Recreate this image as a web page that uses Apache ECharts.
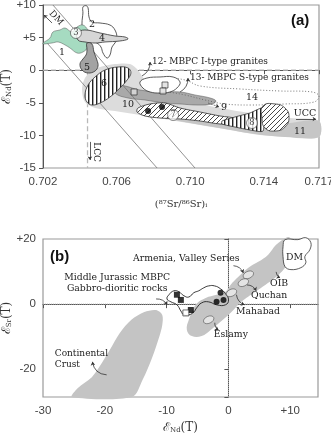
<!DOCTYPE html>
<html><head><meta charset="utf-8">
<script src="https://cdn.jsdelivr.net/npm/echarts@6/dist/echarts.min.js"></script>
<style>html,body{margin:0;padding:0;background:#fff}#c{width:331px;height:437px}</style>
</head><body><div id="c"></div>
<script>
// ---------- axis ticks ----------
const xTicksA = [0.702, 0.706, 0.710, 0.714, 0.717];
const yTicksA = [-15, -10, -5, 0, 5, 10];
const xTicksB = [-30, -20, -10, 0, 10];
const yTicksB = [-28.5, -20, 0, 20];
const yLabelsB = [-20, 0, 20];

// ---------- panel (a) fields: [87Sr/86Sr, eNd] ----------
const field1 = [[.7020,4.17],[.70238,4.94],[.70254,5.86],[.70292,6.17],[.70320,6.47],[.70358,5.86],[.70385,6.63],[.70417,6.93],[.70445,6.17],[.70466,5.40],[.70455,4.63],[.70445,3.56],[.70417,2.79],[.70385,2.64],[.70347,3.40],[.70320,3.87],[.70282,4.33],[.70249,4.17],[.7020,4.02]];
const field2 = [[.70417,9.69],[.70434,9.9],[.70445,9.54],[.70450,8.16],[.70466,7.39],[.70510,7.24],[.70564,6.93],[.70591,6.17],[.70602,4.94],[.70591,4.17],[.70575,3.56],[.70564,2.33],[.70548,1.87],[.70526,2.64],[.70515,3.56],[.70493,4.17],[.70466,4.33],[.70439,4.94],[.70417,5.71],[.70412,7.24],[.70417,8.77]];
const field4 = [[.70385,5.71],[.70428,6.17],[.70510,5.71],[.70591,5.25],[.70646,5.09],[.70662,4.79],[.70618,4.48],[.70537,4.33],[.70483,4.17],[.70428,4.33],[.70390,4.63]];
const field5 = [[.70439,4.17],[.70466,4.02],[.70477,2.79],[.70493,1.56],[.70499,0.64],[.70483,-0.12],[.70445,-0.43],[.70412,0.03],[.70401,0.95],[.70417,1.72],[.70434,2.33],[.70439,3.10]];
const field6 = [[.70428,-3.80],[.70445,-2.27],[.70483,-1.04],[.70537,0.03],[.70608,0.49],[.70662,0.34],[.70678,-0.43],[.70657,-1.50],[.70618,-2.73],[.70564,-4.11],[.70510,-5.03],[.70466,-5.34],[.70439,-4.88]];
const field10 = [[.70412,-3.04],[.70423,-1.50],[.70455,-0.28],[.70510,0.49],[.70591,0.95],[.70673,0.95],[.70716,0.03],[.70754,-1.50],[.70836,-3.04],[.70945,-4.26],[.71108,-5.49],[.71325,-6.56],[.71542,-7.33],[.71700,-7.79],[.71700,-10.25],[.71542,-10.25],[.71379,-9.94],[.71216,-9.17],[.71053,-8.40],[.70890,-7.64],[.70727,-6.87],[.70591,-6.26],[.70483,-5.80],[.70428,-4.88]];
const field11 = [[.70727,-6.26],[.70945,-7.03],[.71162,-7.79],[.71390,-8.56],[.71542,-8.1],[.71700,-7.79],[.71700,-10.25],[.71515,-10.25],[.71352,-9.79],[.71189,-9.02],[.70999,-8.10],[.70836,-7.18]];
const field13 = [[.70580,-2.12],[.70646,-2.42],[.70727,-3.04],[.70836,-3.34],[.70945,-3.34],[.71026,-3.80],[.71108,-4.26],[.71140,-4.72],[.71118,-5.18],[.71042,-5.34],[.70945,-5.18],[.70863,-5.03],[.70754,-4.57],[.70662,-4.26],[.70591,-3.50]];
const field12 = [[.70727,-1.81],[.70765,-1.20],[.70836,-1.04],[.70907,-1.04],[.70945,-1.81],[.70928,-2.73],[.70890,-3.34],[.70836,-3.50],[.70782,-3.34],[.70743,-2.73]];
const field14 = [[.70771,-1.50],[.70863,-1.20],[.70972,-1.50],[.71053,-2.42],[.71271,-2.88],[.71488,-3.19],[.71662,-3.34],[.71700,-3.96],[.71673,-4.88],[.71515,-5.18],[.71325,-5.34],[.71189,-5.18],[.71080,-4.57],[.70972,-3.80],[.70836,-3.04],[.70771,-2.27]];
const field7 = [[.70716,-5.80],[.70782,-5.18],[.70863,-5.03],[.70945,-5.80],[.71053,-6.41],[.71162,-7.02],[.71260,-7.48],[.71260,-8.25],[.71162,-8.25],[.71053,-7.79],[.70945,-7.48],[.70836,-7.33],[.70754,-7.02],[.70711,-6.41]];
const field8a = [[.71173,-7.79],[.71243,-7.18],[.71325,-6.56],[.71396,-5.80],[.71396,-9.33],[.71325,-9.17],[.71243,-8.71],[.71173,-8.25]];
const field8b = [[.71396,-5.49],[.71461,-5.18],[.71515,-5.80],[.71537,-7.18],[.71515,-8.71],[.71461,-9.33],[.71407,-8.87],[.71390,-7.33]];
const squaresA = [[.70695,-3.34],[.70863,-2.27],[.70852,-3.19]];
const dotsA = [[.70771,-6.26],[.70847,-5.64]];
const mantleLineA = [[.70254,10],[.71026,-15]];
const mantleLineB = [[.70222,4.17],[.70820,-15]];
const lccLine = [[.70442,0],[.70442,-15]];
const zeroLineA = [[.702,0],[.717,0]];
const circledA = [[.70379,5.71,'3'],[.70907,-6.87,'7'],[.71336,-8.10,'8']];
const numLabelsA = [[.70303,2.64,'1'],[.70466,6.93,'2'],[.70521,4.79,'4'],[.70439,0.34,'5'],[.70532,-2.12,'6'],[.70662,-5.34,'10'],[.71597,-9.48,'11'],[.71336,-4.26,'14'],[.71184,-5.80,'9'],[.71624,-6.72,'UCC']];
const noteLabelsA = [[.70792,1.26,'12- MBPC I-type granites'],[.70999,-1.2,'13- MBPC S-type granites']];
const rotLabelsA = [[.70271,8.0,'DM',-0.84],[.70490,-12.55,'LCC',-Math.PI/2]];
const arrowsA = [[[.70249,7.24],[.70205,8.47],0],[[.70738,-0.89],[.70782,1.26],-0.3],[[.70945,-3.34],[.70988,-1.2],-0.3],[[.71575,-7.48],[.71684,-7.48],0],[[.70455,-11.0],[.70455,-13.77],0]];
const dottedArrowA = [[[.71097,-5.03],[.71157,-5.64],0]];

// ---------- panel (b) fields: [eNd, eSr] ----------
const crust = [[-25.3,-28.5],[-24.4,-25.8],[-22.1,-22.4],[-20.9,-19.3],[-19.2,-14.1],[-17.6,-8.9],[-15.7,-4.8],[-13.6,-2.4],[-11.7,-1.8],[-10.7,-3.3],[-10.7,-6.4],[-11.2,-10.1],[-12.3,-16.2],[-13.9,-23.3],[-15.6,-28.5]];
const mantleArray = [[9.33,20.4],[7.72,18.2],[6.44,15.2],[4.83,13.0],[3.23,11.2],[1.62,8.4],[0.34,5.9],[-0.47,3.8],[-1.91,2.9],[-3.68,1.9],[-5.28,-0.2],[-6.40,-4.8],[-6.72,-7.9],[-5.92,-9.8],[-4.32,-9.8],[-2.87,-7.9],[-1.27,-5.4],[0.50,-2.4],[2.10,0.7],[4.35,3.8],[5.96,5.9],[7.56,8.1],[9.17,11.2],[10.13,14.2],[10.61,18.2],[9.97,20.4]];
const jurassic = [[-9.61,2.9],[-8.81,4.1],[-8.01,3.8],[-7.21,2.6],[-6.40,2.2],[-5.60,3.5],[-4.80,4.1],[-4.00,5.0],[-3.19,5.6],[-2.23,5.6],[-1.27,4.7],[-0.47,3.2],[0.02,1.3],[-0.47,-0.2],[-1.91,-0.2],[-3.19,0.7],[-4.32,0.4],[-5.12,-1.1],[-5.60,-2.4],[-6.40,-3.3],[-7.21,-3.3],[-7.69,-2.1],[-8.33,-0.2],[-9.29,0.7],[-9.93,1.6]];
const dmB = [[9.17,19.8],[11.25,19.8],[12.53,20.4],[13.34,18.9],[13.18,16.7],[12.37,14.6],[12.53,12.7],[11.73,11.2],[10.13,10.6],[9.17,11.5],[8.84,14.6],[8.84,17.6]];
const ellipsesB = [[3.23,9.0,'Armenia'],[2.42,6.6,'Quchan'],[0.50,3.5,'Mahabad'],[-3.19,-4.8,'Eslamy']];
const squaresB = [[-8.33,2.9],[-7.69,1.3],[-6.08,-1.8]];
const openSquaresB = [[-6.88,-2.7]];
const dotsB = [[-1.27,3.5],[-1.91,0.7],[-0.79,1.3]];
const zeroVB = [[0,-28.5],[0,20]];
const zeroHB = [[-30,0],[14.5,0]];
const labelsB = [[-6.8,14.1,'Armenia, Valley Series'],[-18.0,8.2,'Middle Jurassic MBPC'],[-18.0,4.9,'Gabbro-dioritic rocks'],[10.7,14.3,'DM'],[8.2,6.2,'OIB'],[6.6,2.6,'Quchan'],[4.8,-2.4,'Mahabad'],[0.4,-9.2,'Eslamy']];
const leftLabelsB = [[-28.1,-15.2,'Continental'],[-28.1,-18.6,'Crust']];
const arrowsB = [[[0.82,11.8],[2.42,9.6],0.3],[[7.72,9.9],[8.36,8.1],-0.3],[[3.0,5.9],[4.5,4.1],0.3],[[1.3,2.9],[2.6,-0.2],-0.3],[[-2.2,-5.7],[-1.6,-7.9],-0.3],[[-11.7,1.6],[-9.9,-0.2],0.3],[[-19.7,-21.7],[-22.0,-17.7],0.4]];

// ---------- styling helpers ----------
const SERIF = "'DejaVu Serif', serif";
const SANS = "'Liberation Sans', Arial, sans-serif";
function pattern(kind){
  const c = document.createElement('canvas');
  const g = c.getContext('2d');
  if (kind === 'v') {
    c.width = 4; c.height = 4;
    g.fillStyle = '#fff'; g.fillRect(0,0,4,4);
    g.fillStyle = '#222'; g.fillRect(0,0,1.4,4);
  } else {
    c.width = 5; c.height = 5;
    g.fillStyle = '#fff'; g.fillRect(0,0,5,5);
    g.strokeStyle = '#333'; g.lineWidth = 0.9;
    g.beginPath(); g.moveTo(-1,6); g.lineTo(6,-1); g.stroke();
  }
  return {image: c, repeat: 'repeat'};
}
const VSTRIPE = pattern('v');
const DSTRIPE = pattern('d');

function poly(gi, pts, style, smooth, z){
  return {type:'custom', xAxisIndex:gi, yAxisIndex:gi, data:pts, z:z, silent:true, clip:false,
    renderItem:function(params, api){
      if (params.dataIndex !== 0) return null;
      return {type:'polygon', shape:{points:pts.map(q=>api.coord(q)), smooth:smooth}, style:Object.assign({}, style)};
    }};
}
function seg(gi, pts, color, width, type, z){
  return {type:'line', xAxisIndex:gi, yAxisIndex:gi, data:pts, symbol:'none', silent:true, z:z,
    lineStyle:{color:color, width:width, type:type}};
}
function texts(gi, items, font, align, z, rot){
  return {type:'custom', xAxisIndex:gi, yAxisIndex:gi, data:items.map(d=>[d[0],d[1]]), z:z||20, silent:true, clip:false,
    renderItem:function(params, api){
      const d = items[params.dataIndex];
      const p = api.coord([d[0],d[1]]);
      return {type:'text', x:p[0], y:p[1], rotation: rot ? d[3] : 0,
        style:{text:d[2], font:font, fill:'#222', align:align, verticalAlign:'middle'}};
    }};
}
function arrows(gi, list, type){
  return {type:'lines', coordinateSystem:'cartesian2d', xAxisIndex:gi, yAxisIndex:gi, z:15, silent:true,
    symbol:['none','arrow'], symbolSize:3.5,
    lineStyle:{color:'#333', width:0.8, type:type||'solid', opacity:1},
    data:list.map(a=>({coords:[a[0],a[1]], lineStyle:{curveness:a[2]}}))};
}
const OUT = {stroke:'#333', lineWidth:0.8};
const signFmt = v => v > 0 ? '+' + v : String(v);
const axisLineStyle = {lineStyle:{color:'#555', width:1}};

const nameRich = {s:{fontSize:7, fontFamily:SERIF, color:'#333', verticalAlign:'bottom', padding:[6,0,0,0]}};

const option = {
  animation:false,
  grid:[
    {left:43, top:5, width:276, height:163, show:true, borderColor:'#9a9a9a', borderWidth:1.2, containLabel:false, outerBoundsMode:'none'},
    {left:43, top:239, width:275, height:158, show:true, borderColor:'#9a9a9a', borderWidth:1.2, containLabel:false, outerBoundsMode:'none'}
  ],
  xAxis:[
    {gridIndex:0, type:'value', min:0.702, max:0.717, splitLine:{show:false},
     axisLine:axisLineStyle, axisTick:{customValues:xTicksA, length:4, lineStyle:{color:'#555'}},
     axisLabel:{customValues:xTicksA, formatter:v=>v.toFixed(3), fontFamily:SANS, fontSize:11.5, color:'#444', margin:8},
     name:'(⁸⁷Sr/⁸⁶Sr)ᵢ', nameLocation:'middle', nameGap:31, nameMoveOverlap:false, nameTextStyle:{fontFamily:SERIF, fontSize:10, color:'#333'}},
    {gridIndex:1, type:'value', min:-30, max:14.5, splitLine:{show:false},
     axisLine:axisLineStyle, axisTick:{customValues:xTicksB, length:4, lineStyle:{color:'#555'}},
     axisLabel:{customValues:xTicksB, formatter:signFmt, fontFamily:SANS, fontSize:11.5, color:'#444', margin:8},
     name:'ℰ{s|Nd}(T)', nameLocation:'middle', nameGap:24, nameMoveOverlap:false, nameTextStyle:{fontFamily:SERIF, fontSize:12, color:'#333', rich:nameRich}}
  ],
  yAxis:[
    {gridIndex:0, type:'value', min:-15, max:10, splitLine:{show:false},
     axisLine:axisLineStyle, axisTick:{customValues:yTicksA, length:4, lineStyle:{color:'#555'}},
     axisLabel:{customValues:yTicksA, formatter:signFmt, fontFamily:SANS, fontSize:11.5, color:'#444', margin:7},
     name:'ℰ{s|Nd}(T)', nameLocation:'middle', nameGap:30, nameRotate:90, nameMoveOverlap:false, nameTextStyle:{fontFamily:SERIF, fontSize:12, color:'#333', rich:nameRich}},
    {gridIndex:1, type:'value', min:-28.5, max:20, splitLine:{show:false},
     axisLine:axisLineStyle, axisTick:{customValues:yTicksB, length:4, lineStyle:{color:'#555'}},
     axisLabel:{customValues:yLabelsB, formatter:signFmt, fontFamily:SANS, fontSize:11.5, color:'#444', margin:7},
     name:'ℰ{s|Sr}(T)', nameLocation:'middle', nameGap:30, nameRotate:90, nameMoveOverlap:false, nameTextStyle:{fontFamily:SERIF, fontSize:12, color:'#333', rich:nameRich}}
  ],
  graphic:[
    {type:'text', left:291, top:13, style:{text:'(a)', font:"bold 15px "+SANS, fill:'#111'}},
    {type:'text', left:50, top:249, style:{text:'(b)', font:"bold 15px "+SANS, fill:'#111'}}
  ],
  series:[
    // panel (a)
    seg(0, zeroLineA, '#b8b8b8', 1.3, [5,3], 1),
    seg(0, lccLine, '#b8b8b8', 1.3, [5,3], 1),
    poly(0, field10, {fill:'#dcdcdc'}, 0.3, 2),
    poly(0, field11, {fill:'#c6c6c6'}, 0.3, 3),
    poly(0, field13, {fill:'#a9a9a9', stroke:'#555', lineWidth:0.5}, 0.4, 4),
    seg(0, mantleLineA, '#777', 0.8, 'solid', 5),
    seg(0, mantleLineB, '#777', 0.8, 'solid', 5),
    poly(0, field2, Object.assign({fill:'#fff'}, OUT), 0.4, 6),
    poly(0, field1, Object.assign({fill:'#a6dbc1'}, {stroke:'#555', lineWidth:0.5}), 0.4, 7),
    poly(0, field4, Object.assign({fill:'#d6d6d6'}, OUT), 0.4, 8),
    poly(0, field5, Object.assign({fill:'#a3a3a3'}, OUT), 0.4, 8),
    poly(0, field6, Object.assign({fill:VSTRIPE}, OUT), 0.4, 8),
    poly(0, field14, {fill:'none', stroke:'#666', lineWidth:0.9, lineDash:[1,2]}, 0.4, 8),
    poly(0, field12, Object.assign({fill:'#fff'}, OUT), 0.4, 9),
    poly(0, field7, Object.assign({fill:DSTRIPE}, OUT), 0.3, 9),
    poly(0, field8a, Object.assign({fill:VSTRIPE}, OUT), 0.2, 9),
    poly(0, field8b, Object.assign({fill:DSTRIPE}, OUT), 0.5, 9),
    {type:'scatter', xAxisIndex:0, yAxisIndex:0, data:squaresA, symbol:'rect', symbolSize:6, z:12, silent:true,
     itemStyle:{color:'#ddd', borderColor:'#222', borderWidth:0.8}},
    {type:'scatter', xAxisIndex:0, yAxisIndex:0, data:dotsA, symbol:'circle', symbolSize:6, z:12, silent:true,
     itemStyle:{color:'#000'}},
    {type:'scatter', xAxisIndex:0, yAxisIndex:0, data:circledA, symbol:'circle', symbolSize:11, z:13, silent:true,
     itemStyle:{color:'#fff', borderColor:'#333', borderWidth:0.7},
     label:{show:true, position:'inside', formatter:p=>p.data[2], fontFamily:SERIF, fontSize:8.5, color:'#222'}},
    texts(0, numLabelsA, '9.5px '+SERIF, 'center', 20),
    texts(0, noteLabelsA, '9px '+SERIF, 'left', 20),
    texts(0, rotLabelsA, '9px '+SERIF, 'center', 20, true),
    arrows(0, arrowsA),
    arrows(0, dottedArrowA, 'dotted'),
    // panel (b)
    seg(1, zeroVB, '#aaa', 1, 'dotted', 1),
    seg(1, zeroHB, '#aaa', 1, 'dotted', 1),
    poly(1, crust, {fill:'#c4c4c4'}, 0.3, 2),
    poly(1, mantleArray, {fill:'#c4c4c4'}, 0.4, 2),
    poly(1, dmB, Object.assign({fill:'#fff'}, OUT), 0.4, 5),
    poly(1, jurassic, {fill:'none', stroke:'#222', lineWidth:0.9}, 0.5, 6),
    {type:'scatter', xAxisIndex:1, yAxisIndex:1, data:ellipsesB, symbol:'circle', symbolSize:[11,7], symbolRotate:25, z:7, silent:true,
     itemStyle:{color:'#ececec', borderColor:'#555', borderWidth:0.7}},
    {type:'scatter', xAxisIndex:1, yAxisIndex:1, data:squaresB, symbol:'rect', symbolSize:6, z:8, silent:true,
     itemStyle:{color:'#000'}},
    {type:'scatter', xAxisIndex:1, yAxisIndex:1, data:openSquaresB, symbol:'rect', symbolSize:6, z:8, silent:true,
     itemStyle:{color:'#fff', borderColor:'#222', borderWidth:0.8}},
    {type:'scatter', xAxisIndex:1, yAxisIndex:1, data:dotsB, symbol:'circle', symbolSize:6, z:8, silent:true,
     itemStyle:{color:'#000'}},
    texts(1, labelsB, '9.3px '+SERIF, 'center', 20),
    texts(1, leftLabelsB, '9px '+SERIF, 'left', 20),
    arrows(1, arrowsB)
  ]
};
const chart = echarts.init(document.getElementById('c'), null, {renderer:'canvas'});
chart.setOption(option);
</script>
</body></html>
